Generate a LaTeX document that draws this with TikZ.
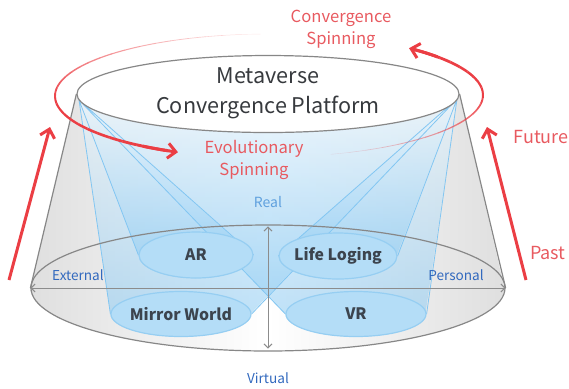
\documentclass[tikz,border=0pt]{standalone}
\usepackage{fontspec}
\setmainfont{Noto Sans CJK KR}
\usetikzlibrary{shapes.geometric,arrows.meta}
\pgfdeclarelayer{back}
\pgfdeclarelayer{mid}
\pgfsetlayers{back,mid,main}
\definecolor{myred}{RGB}{235,62,68}
\definecolor{txtred}{RGB}{232,90,96}
\definecolor{titlegray}{RGB}{55,58,62}
\definecolor{labgray}{RGB}{60,68,78}
\definecolor{beamblue}{RGB}{130,198,242}
\definecolor{ellfill}{RGB}{180,221,247}
\definecolor{ellline}{RGB}{150,206,242}
\definecolor{realblue}{RGB}{95,160,222}
\definecolor{axblue}{RGB}{50,105,190}
\definecolor{axgray}{RGB}{140,140,140}
\definecolor{conegray}{RGB}{135,135,135}
\begin{document}
\begin{tikzpicture}[x=0.5pt,y=-0.5pt,
  blob/.style={ellipse, draw=ellline, fill=ellfill, line width=0.6pt, inner sep=0pt},
  blobtext/.style={text=labgray, font=\fontsize{7.9}{9.5}\selectfont\bfseries},
  beam/.style={top color=beamblue!15, bottom color=beamblue, fill opacity=0.55},
  ray/.style={draw=beamblue, line width=0.4pt},
  redarrow/.style={draw=myred, line width=1.5pt, -{Straight Barb[length=4pt,width=7.5pt]}},
  redtext/.style={text=txtred, font=\fontsize{8.3}{11}\selectfont, align=center},
  axlab/.style={text=axblue, font=\fontsize{6.8}{8}\selectfont},
  axis/.style={draw=axgray, line width=0.5pt, {Straight Barb[length=2pt,width=4pt]}-{Straight Barb[length=2pt,width=4pt]}}
]
\useasboundingbox (0,0) rectangle (569,388);

% main shapes
\node[ellipse, minimum width=237pt, minimum height=63pt, inner sep=0pt, draw=conegray, line width=0.6pt] (base) at (268,288) {};
\node[ellipse, minimum width=191pt, minimum height=38.5pt, inner sep=0pt, draw=conegray, fill=white, line width=0.6pt] (plat) at (268,94) {};
\node[text=titlegray, font=\fontsize{10.8}{15}\selectfont, align=center] (title) at (268,93) {Metaverse\\Convergence Platform};

\node[blob, minimum width=57pt, minimum height=23pt, label={[blobtext]center:AR}] (AR) at (196,255) {};
\node[blob, minimum width=59pt, minimum height=23pt, label={[blobtext]center:Life Loging}] (LL) at (338,256) {};
\node[blob, minimum width=70pt, minimum height=22.5pt, label={[blobtext]center:Mirror World}] (MW) at (181,314) {};
\node[blob, minimum width=70pt, minimum height=22.5pt, label={[blobtext]center:VR}] (VR) at (356,314) {};

\coordinate (L) at (79,100);
\coordinate (R) at (457,99);

% cone body
\begin{pgfonlayer}{back}
\shade[left color=gray!25, right color=gray!25, middle color=white]
  (plat.west) -- (base.west) arc[start angle=180, end angle=360, x radius=118.5pt, y radius=31.5pt] -- (plat.east) -- cycle;
\end{pgfonlayer}
\draw[conegray, line width=0.6pt] (plat.west) -- (base.west) (plat.east) -- (base.east);

% light beams
\begin{pgfonlayer}{mid}
\shade[beam] (L) -- (MW.west) arc[start angle=180, end angle=360, x radius=35pt, y radius=11.25pt] -- (R) -- cycle;
\shade[beam] (L) -- (VR.west) arc[start angle=180, end angle=360, x radius=35pt, y radius=11.25pt] -- (R) -- cycle;
\shade[beam] (L) -- (AR.west) arc[start angle=180, end angle=360, x radius=28.5pt, y radius=11.5pt] -- cycle;
\shade[beam] (R) -- (LL.west) arc[start angle=180, end angle=360, x radius=29.5pt, y radius=11.5pt] -- cycle;
\draw[ray] (L) -- (MW.west) (L) -- (AR.west) (L) -- (AR.east) (L) -- (VR.west)
           (R) -- (LL.east) (R) -- (LL.west) (R) -- (VR.east) (R) -- (MW.east);
\end{pgfonlayer}

% axes
\draw[axis] (base.west) -- (base.east);
\draw[axis] ([yshift=-1pt]base.north) -- ([yshift=1.5pt]base.south);
\node[text=realblue, font=\fontsize{7}{8}\selectfont] (real) at (268,202) {Real};
\node[axlab] (virtual) at (268,378) {Virtual};
\node[axlab] (ext) at (78,275) {External};
\node[axlab] (pers) at (456,275) {Personal};

% spinning arcs
\foreach \i in {0,...,29}{
  \pgfmathsetmacro\ta{268-5*\i}
  \pgfmathsetmacro\tb{268-5*(\i+1)}
  \pgfmathsetmacro\w{0.2+1.3*\i/29}
  \pgfmathsetmacro\o{0.12+0.88*min(1,\i/18)}
  \draw[myred, line width=\w pt, draw opacity=\o] plot[domain=\ta:\tb, samples=4, smooth] ({268+213*cos(\x)},{96+62*sin(\x)});
}
\draw[myred, line width=1.5pt, -{Straight Barb[length=4pt,width=7.5pt]}] plot[domain=126:115, samples=5, smooth] ({268+213*cos(\x)},{96+62*sin(\x)});

\foreach \i in {0,...,23}{
  \pgfmathsetmacro\ta{73-5*\i}
  \pgfmathsetmacro\tb{73-5*(\i+1)}
  \pgfmathsetmacro\w{0.2+1.3*\i/23}
  \pgfmathsetmacro\o{0.12+0.88*min(1,\i/14)}
  \draw[myred, line width=\w pt, draw opacity=\o] plot[domain=\ta:\tb, samples=4, smooth] ({268+215*cos(\x)},{95+62*sin(\x)});
}
\draw[myred, line width=1.5pt, -{Straight Barb[length=4pt,width=7.5pt]}] plot[domain=-38:-49, samples=5, smooth] ({268+215*cos(\x)},{95+62*sin(\x)});

% time arrows
\coordinate (lp0) at (9,280);
\coordinate (lp1) at (50,127);
\coordinate (rp0) at (526,280);
\coordinate (rp1) at (487,127);
\draw[redarrow] (lp0) -- (lp1);
\draw[redarrow] (rp0) -- (rp1);

\node[redtext] (convsp) at (341,29) {Convergence\\Spinning};
\node[redtext] (evosp) at (254,160) {Evolutionary\\Spinning};
\node[redtext, font=\fontsize{9}{11}\selectfont] (future) at (541,137) {Future};
\node[redtext, font=\fontsize{9}{11}\selectfont] (past) at (548,253) {Past};
\end{tikzpicture}
\end{document}
